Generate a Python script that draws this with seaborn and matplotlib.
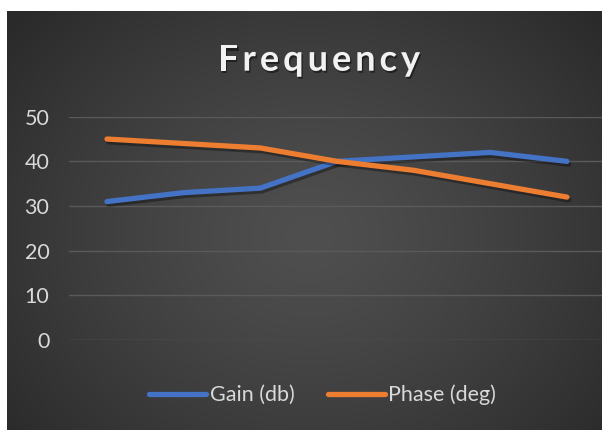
import numpy as np
import pandas as pd
import matplotlib
matplotlib.use("Agg")
import matplotlib.pyplot as plt
import matplotlib.patheffects as pe
from matplotlib.lines import Line2D
import seaborn as sns

# Measurements at each of the seven sample points
points = [1, 2, 3, 4, 5, 6, 7]
gain_db = [31, 33, 34, 40, 41, 42, 40]
phase_deg = [45, 44, 43, 40, 38, 35, 32]
series_names = ["Gain (db)", "Phase (deg)"]
series_colors = ["#4472C4", "#ED7D31"]
y_ticks = [0, 10, 20, 30, 40, 50]
title_text = "Frequency"

df = pd.DataFrame({
    "point": points * 2,
    "value": gain_db + phase_deg,
    "series": [series_names[0]] * len(points) + [series_names[1]] * len(points),
})
df["pos"] = df["point"] - 1

sns.set_theme(style="dark")
plt.rcParams["font.family"] = ["Lato", "DejaVu Sans"]

W, H = 602, 430
fig = plt.figure(figsize=(W / 100, H / 100), dpi=100)
fig.patch.set_facecolor("white")

# Dark radial-gradient chart background
bx0, by0 = 7, 11
bg_ax = fig.add_axes([bx0 / W, 0, 1 - bx0 / W, 1 - by0 / H])
bg_ax.set_axis_off()
gx = np.arange(bx0, W) + 0.5
gy = np.arange(by0, H) + 0.5
GX, GY = np.meshgrid(gx, gy)
cx, cy = 310, 235
r = np.sqrt(((GX - cx) / 390) ** 2 + ((GY - cy) / 330) ** 2)
r = np.clip(r, 0, 1)
c_center, c_edge = 0.31, 0.165
shade = c_center + (c_edge - c_center) * r ** 1.3
img = np.dstack([shade, shade, shade])
bg_ax.imshow(img, aspect="auto", extent=[0, 1, 0, 1], interpolation="bilinear")
bg_ax.set_xlim(0, 1)
bg_ax.set_ylim(0, 1)

# Plot area: category spacing ~76.7 px, 0 at y=340, 50 at y=116.7
left_px, right_px = 68.7, 605.3
y0_px, y50_px = 340.0, 116.7
ax = fig.add_axes([left_px / W, (H - y0_px) / H,
                   (right_px - left_px) / W, (y0_px - y50_px) / H])
ax.set_facecolor("none")
ax.patch.set_alpha(0)

sns.lineplot(data=df, x="pos", y="value", hue="series", palette=series_colors,
             hue_order=series_names, ax=ax, linewidth=3.8, legend=False,
             sort=False)
for ln in ax.lines:
    ln.set_solid_capstyle("round")
    ln.set_solid_joinstyle("round")
    ln.set_path_effects([
        pe.SimpleLineShadow(offset=(1.2, -2.0), shadow_color="black", alpha=0.35),
        pe.Normal(),
    ])

ax.set_xlim(-0.5, 6.5)
ax.set_ylim(0, 50)
ax.set_yticks(y_ticks)
ax.set_xticks([])
ax.set_xlabel("")
ax.set_ylabel("")
ax.grid(axis="y", color="#5a5a5a", linewidth=1.0)
ax.grid(axis="x", visible=False)
ax.set_axisbelow(True)
for s in ax.spines.values():
    s.set_visible(False)
ax.tick_params(axis="y", length=0, pad=14, labelsize=15.5, labelcolor="#d9d9d9")
for t in ax.get_yticklabels():
    t.set_clip_on(False)

# Letter-spaced title with soft shadow
renderer = fig.canvas.get_renderer()
title_size = 26
title_left, title_right = 218, 420
base_y = (H - 70.7) / H
probe = fig.text(0, 0, "", fontsize=title_size, fontweight="bold")
prefix_w = []
for i in range(len(title_text) + 1):
    probe.set_text(title_text[:i] if i else "")
    prefix_w.append(probe.get_window_extent(renderer).width if i else 0.0)
probe.remove()
natural = prefix_w[-1]
spacing = (title_right - title_left - natural) / (len(title_text) - 1)
for i, ch in enumerate(title_text):
    xpx = title_left + prefix_w[i] + i * spacing
    fig.text(xpx / W, base_y, ch, fontsize=title_size, fontweight="bold",
             color="#f2f2f2", ha="left", va="baseline",
             path_effects=[pe.withSimplePatchShadow(offset=(1.0, -1.5),
                                                    shadow_rgbFace="black",
                                                    alpha=0.45)])

# Legend along the bottom
handles = [Line2D([0], [0], color=c, linewidth=3.8, solid_capstyle="round")
           for c in series_colors]
leg = fig.legend(handles, series_names, loc="center",
                 bbox_to_anchor=(322.5 / W, (H - 395) / H), ncol=2,
                 frameon=False, fontsize=15.5, handlelength=2.65,
                 handletextpad=0.15, columnspacing=1.55, borderpad=0)
for t in leg.get_texts():
    t.set_color("#d9d9d9")

fig.savefig("out.png", dpi=100, facecolor=fig.get_facecolor())
